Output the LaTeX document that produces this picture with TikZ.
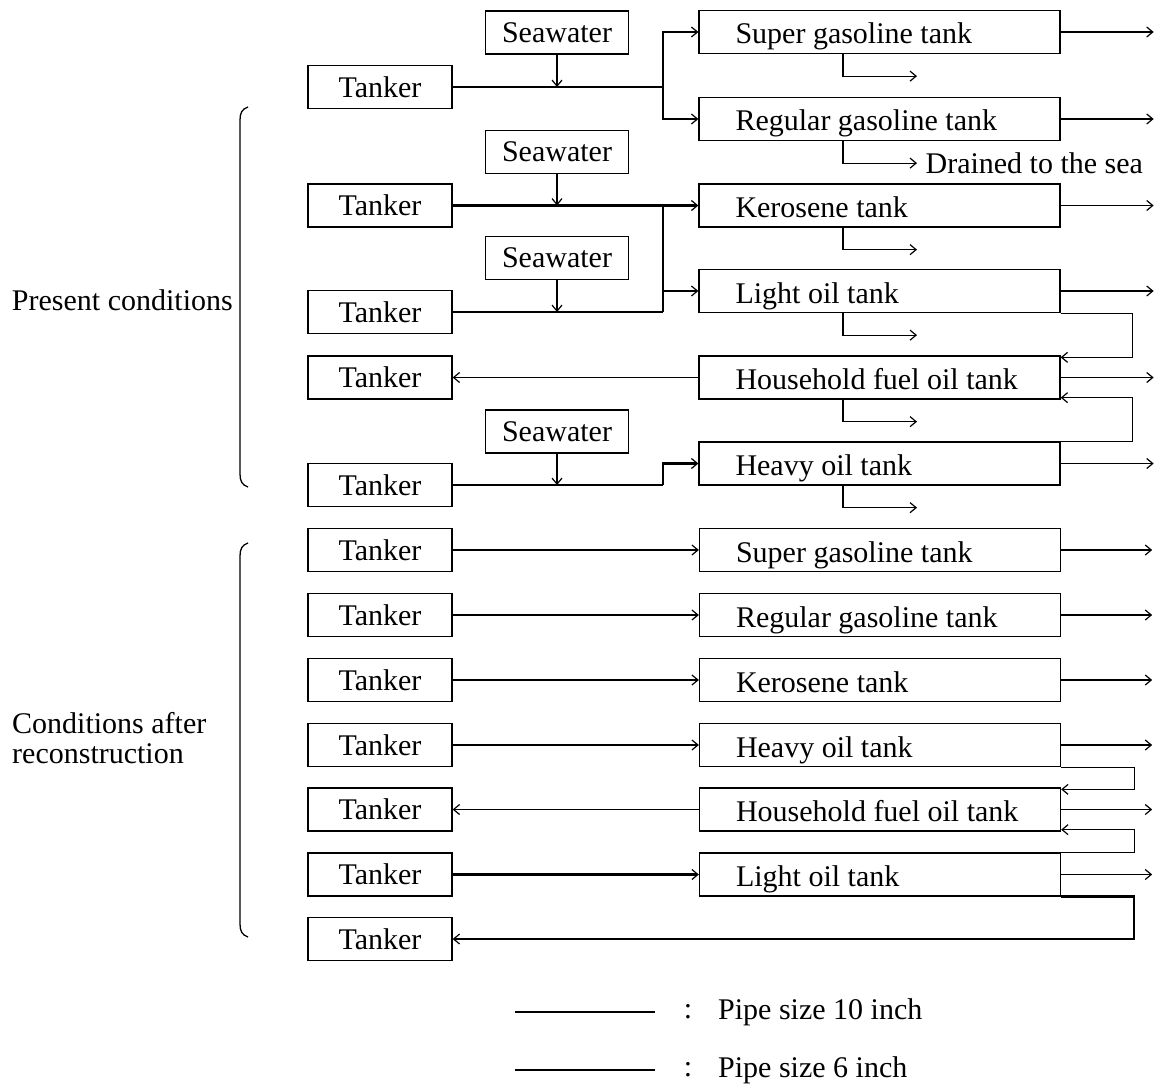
\documentclass[tikz,border=0pt]{standalone}
\usepackage{fontspec}
\setmainfont{Liberation Serif}
\usetikzlibrary{arrows.meta,calc}
\newcommand\tanklabel[1]{\makebox[288pt][l]{#1}}
\begin{document}
\begin{tikzpicture}[x=1pt,y=-1pt,
  font=\fontsize{30}{30}\selectfont,
  >={Straight Barb[length=6pt,width=10pt,line width=1.2pt]},
  box/.style={draw,line width=1.3pt,inner sep=0pt,minimum height=43pt},
  tanker/.style={box,minimum width=144pt},
  sea/.style={box,minimum width=143pt},
  tank/.style={box,minimum width=361pt,inner xsep=36.5pt,text height=24pt,text depth=0pt},
  p10/.style={line width=2.4pt},
  p6/.style={line width=1.2pt},
  brace/.style={line width=1.3pt},
  lbl/.style={inner sep=0pt}]
\fill[white] (0,0) rectangle (1155,1086);
\useasboundingbox (0,0) rectangle (1155,1086);
\coordinate (cx) at (663,0);

% ---------- present conditions ----------
\node[sea] (sw1) at (557,32.5) {Seawater};
\node[tanker] (t1) at (380,87) {Tanker};
\node[tank] (sup1) at (879.5,32) {\tanklabel{Super gasoline tank}};
\node[tank] (reg1) at (879.5,119) {\tanklabel{Regular gasoline tank}};
\node[sea] (sw2) at (557,152) {Seawater};
\node[tanker] (t2) at (380,205.5) {Tanker};
\node[tank] (ker1) at (879.5,205.5) {\tanklabel{Kerosene tank}};
\node[sea] (sw3) at (557,258) {Seawater};
\node[tanker] (t3) at (380,312) {Tanker};
\node[tank] (lig1) at (879.5,291) {\tanklabel{Light oil tank}};
\node[tanker] (t4) at (380,377.5) {Tanker};
\node[tank] (hou1) at (879.5,377.5) {\tanklabel{Household fuel oil tank}};
\node[sea] (sw4) at (557,431.5) {Seawater};
\node[tanker] (t5) at (380,485) {Tanker};
\node[tank] (hea1) at (879.5,463.5) {\tanklabel{Heavy oil tank}};

\coordinate (j1) at (t1.east -| cx);
\draw[p10] (t1.east) -- (j1);
\draw[p10,->] (j1) |- (sup1.west);
\draw[p10,->] (j1) |- (reg1.west);
\draw[p6,->] (sw1.south) -- (sw1.south |- t1.east);

\coordinate (j2) at (t2.east -| cx);
\coordinate (j3) at (t3.east -| cx);
\draw[p10,->] (t2.east) -- (ker1.west);
\draw[p10] (j2) -- (j3);
\draw[p6] (t3.east) -- (j3);
\draw[p10,->] (lig1.west -| cx) -- (lig1.west);
\draw[p6,->] (sw2.south) -- (sw2.south |- t2.east);
\draw[p6,->] (sw3.south) -- (sw3.south |- t3.east);

\draw[p6,->] (hou1.west) -- (t4.east);
\coordinate (j5) at (t5.east -| cx);
\draw[p10] (t5.east) -- (j5);
\draw[p10,->] (j5) |- (hea1.west);
\draw[p6,->] (sw4.south) -- (sw4.south |- t5.east);

\draw[p6,->] (lig1.south east) -- ++(72,0) |- ([yshift=-2pt]hou1.north east);
\draw[p6,->] (hea1.north east) -- ++(72,0) |- ([yshift=2pt]hou1.south east);

\foreach \n in {sup1,reg1,ker1,lig1,hou1,hea1} \draw[p6,->] (\n.east) -- ++(93,0);
\foreach \n in {sup1,ker1,lig1,hou1,hea1} \draw[p6,->] ([xshift=-36.5pt]\n.south) -- ++(0,22) -- ++(74,0);
\draw[p6,->] ([xshift=-36.5pt]reg1.south) -- ++(0,22) -- ++(74,0) node[anchor=west,inner sep=0pt,xshift=8pt] (drn) {Drained to the sea};

\draw[brace] (248,107) .. controls (242,109) and (240,113) .. (240,120) -- (240,474) .. controls (240,481) and (242,485) .. (248,487);
\node[lbl,anchor=east] (pc) at (233,300) {Present conditions};

% ---------- after reconstruction ----------
\node[tanker] (u1) at (380,550) {Tanker};
\node[tanker] (u2) at (380,615) {Tanker};
\node[tanker] (u3) at (380,680) {Tanker};
\node[tanker] (u4) at (380,745) {Tanker};
\node[tanker] (u5) at (380,809.5) {Tanker};
\node[tanker] (u6) at (380,874.5) {Tanker};
\node[tanker] (u7) at (380,939) {Tanker};
\node[tank] (sup2) at (880,550) {\tanklabel{Super gasoline tank}};
\node[tank] (reg2) at (880,615) {\tanklabel{Regular gasoline tank}};
\node[tank] (ker2) at (880,680) {\tanklabel{Kerosene tank}};
\node[tank] (hea2) at (880,745) {\tanklabel{Heavy oil tank}};
\node[tank] (hou2) at (880,809.5) {\tanklabel{Household fuel oil tank}};
\node[tank] (lig2) at (880,874.5) {\tanklabel{Light oil tank}};

\draw[p10,->] (u1.east) -- (sup2.west);
\draw[p10,->] (u2.east) -- (reg2.west);
\draw[p10,->] (u3.east) -- (ker2.west);
\draw[p6,->] (u4.east) -- (hea2.west);
\draw[p6,->] (hou2.west) -- (u5.east);
\draw[p10,->] (u6.east) -- (lig2.west);

\draw[p6,->] (hea2.south east) -- ++(73,0) |- ([yshift=-2pt]hou2.north east);
\draw[p6,->] (lig2.north east) -- ++(73,0) |- ([yshift=2pt]hou2.south east);
\draw[p10,->] (lig2.south east) -- ++(73,0) |- (u7.east);

\foreach \n in {sup2,reg2,ker2,hea2,hou2,lig2} \draw[p6,->] (\n.east) -- ++(91,0);

\draw[brace] (248,543) .. controls (242,545) and (240,549) .. (240,556) -- (240,924) .. controls (240,931) and (242,935) .. (248,937);
\node[lbl,anchor=west,align=left] (car) at (12,738) {Conditions after\\reconstruction};

% ---------- legend ----------
\coordinate (la1) at (515,1012);
\coordinate (lb1) at (655,1012);
\coordinate (la2) at (515,1070);
\coordinate (lb2) at (655,1070);
\draw[p10] (la1) -- (lb1);
\draw[p6] (la2) -- (lb2);
\node[lbl] (c1) at (688,1012) {:};
\node[lbl] (c2) at (688,1070) {:};
\node[lbl,anchor=west] (lt1) at (718,1012) {Pipe size 10 inch};
\node[lbl,anchor=west] (lt2) at (718,1070) {Pipe size 6 inch};
\end{tikzpicture}
\end{document}
